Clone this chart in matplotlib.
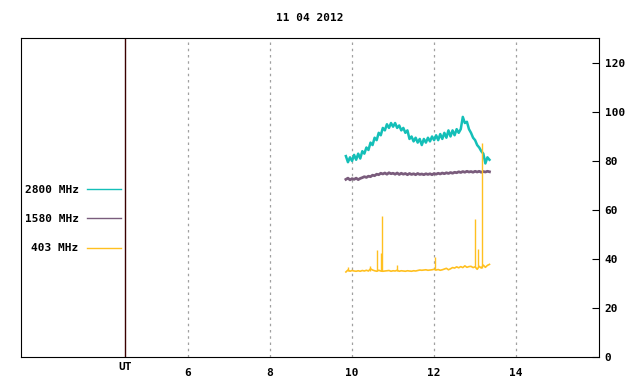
import matplotlib
matplotlib.use("Agg")
import matplotlib.pyplot as plt
import numpy as np

# time grid: samples every 0.05 h starting 9.85 UT
t_start = 9.85
t_step = 0.05

# 2800 MHz flux
flux_2800 = [82, 79.5, 81.5, 80, 82.5, 80.5, 83, 81,
             84, 83, 85.5, 84.5, 87.5, 86.5, 89.5, 88.5,
             91.5, 90.5, 93.5, 92.5, 95, 93.5, 95.5, 94,
             95.5, 93.5, 94.5, 92.5, 93.5, 91.5, 92.5, 89,
             90, 88, 89.5, 87.5, 89, 86.5, 89, 87.5,
             89.5, 88, 90, 88.5, 90.5, 88.5, 91, 89,
             91.5, 89.5, 92.5, 90, 92.5, 90.5, 93, 91.5,
             93, 98, 95.5, 96, 93, 91.5, 89.5, 88.5,
             86.5, 85.5, 84, 83, 79, 81.5, 80.5]

# 1580 MHz flux
flux_1580 = [72.5, 73, 72.3, 72.8, 72.5, 73, 72.4, 72.9,
             73.2, 73.6, 73.3, 73.8, 73.6, 74.2, 74.0, 74.6,
             74.4, 75, 74.7, 75.1, 74.6, 75.2, 74.8, 75,
             74.6, 75.1, 74.5, 75, 74.6, 74.9, 74.4, 74.9,
             74.5, 74.8, 74.4, 74.9, 74.5, 74.7, 74.4, 74.8,
             74.5, 74.8, 74.4, 74.9, 74.6, 75, 74.7, 75.1,
             74.8, 75.2, 74.9, 75.3, 75, 75.4, 75.2, 75.6,
             75.3, 75.7, 75.4, 75.8, 75.5, 75.7, 75.4, 75.8,
             75.5, 75.8, 75.4, 75.7, 75.5, 75.8, 75.6]

# 403 MHz flux (baseline)
flux_403 = [34.7, 35.5, 35.0, 35.3, 35.1, 35.0, 35.2, 35.0,
            35.3, 35.1, 35.4, 35.1, 36.0, 35.5, 35.2, 35.0,
            35.4, 35.1, 35.0, 35.1, 35.2, 35.3, 35.0, 35.2,
            35.1, 35.4, 35.0, 35.2, 35.1, 35.0, 35.2, 35.1,
            35.0, 35.2, 35.1, 35.3, 35.5, 35.4, 35.5, 35.6,
            35.4, 35.5, 35.6, 35.8, 35.5, 35.7, 35.4, 35.6,
            35.9, 36.2, 35.6, 36.0, 36.5, 36.3, 36.8, 36.4,
            36.9, 36.5, 37.2, 36.6, 36.9, 37.0, 36.5, 36.8,
            35.8, 37.0, 36.3, 37.5, 36.6, 37.4, 37.8]

# 403 MHz short bursts
spike_t = [9.90, 10.44, 10.61, 10.71, 10.73, 11.10, 12.02, 13.00, 13.07, 13.17]
spike_top = [36.7, 37.0, 43.7, 42.4, 57.6, 37.5, 40.8, 56.3, 44.0, 87.3]
spike_base = [35.2, 35.1, 35.1, 35.1, 35.1, 35.2, 35.6, 36.8, 36.6, 36.5]

labels = ["2800 MHz", "1580 MHz", "403 MHz"]
colors = ["#14bfb8", "#7a5c7c", "#ffc020"]
hour_ticks = [6, 8, 10, 12, 14]
ut_pos = 4.47
title = "11 04 2012"

font = {"family": "DejaVu Sans Mono", "weight": "bold", "size": 8}

fig = plt.figure(figsize=(6.4, 3.84), dpi=100)
ax = fig.add_axes([21/640, 27/384, 578/640, 319/384])

t = t_start + t_step*np.arange(len(flux_2800))
l1, = ax.plot(t, flux_2800, color=colors[0], lw=1.8)
l2, = ax.plot(t_start + t_step*np.arange(len(flux_1580)), flux_1580, color=colors[1], lw=2)
l3, = ax.plot(t_start + t_step*np.arange(len(flux_403)), flux_403, color=colors[2], lw=1.2)
ax.vlines(spike_t, spike_base, spike_top, color=colors[2], lw=1)

ax.set_xlim(1.93, 16.02)
ax.set_ylim(0, 130.2)

# hour grid + UT separator
for h in hour_ticks:
    ax.axvline(h, color="#a0a0a0", lw=0.9, ls=(0, (2, 3)), zorder=0)
ax.axvline(ut_pos, color="#3a0000", lw=1, zorder=0)

ax.set_xticks([ut_pos] + hour_ticks)
ax.set_xticklabels(["UT"] + [str(h) for h in hour_ticks], **font)
ax.tick_params(axis="x", length=0, pad=8)
ax.get_xticklabels()[0].set_y(0.02)

ax.yaxis.tick_right()
ax.set_yticks(range(0, 121, 20))
ax.set_yticklabels([str(v) for v in range(0, 121, 20)], **font)
ax.tick_params(axis="y", direction="in", length=5, width=0.8, pad=4)
for sp in ax.spines.values():
    sp.set_linewidth(0.8)

ax.set_title(title, pad=12, **font)

lines = [l1, l2, l3]
leg = ax.legend(lines, labels, loc="upper right", bbox_to_anchor=(0.19, 0.572),
                frameon=False, markerfirst=False, handlelength=3.0, handletextpad=0.8,
                labelspacing=1.75, prop=font)
for txt in leg.get_texts():
    txt.set_ha("right")
for h in leg.get_lines():
    h.set_linewidth(1)

fig.savefig("out.png", dpi=100)
